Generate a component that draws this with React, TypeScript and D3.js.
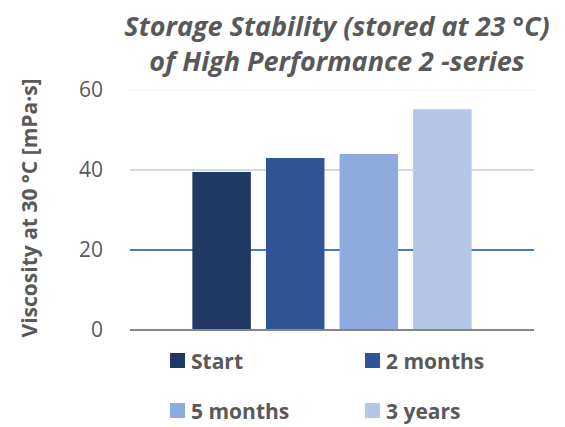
import React from 'react'
import * as d3 from 'd3'

const series = ['Start', '2 months', '5 months', '3 years']
const values = [39.5, 43, 44, 55.2]
const colors = ['#203864', '#2f5597', '#8faadc', '#b4c7e7']
const titleLines = ['Storage Stability (stored at 23 °C)', 'of High Performance 2 -series']
const yLabel = 'Viscosity at 30 °C [mPa·s]'
const yTicks = [0, 20, 40, 60]

// gridline look per tick (0 is the axis line)
const gridStyle: Record<number, {stroke: string; width: number}> = {
  0: {stroke: '#868686', width: 2},
  20: {stroke: '#4a78c8', width: 2},
  40: {stroke: '#cfdaf0', width: 2},
  60: {stroke: '#f4f4f4', width: 1},
}

const W = 565
const H = 427
const plot = {left: 130, right: 534, top: 90, bottom: 330}
const font = '"Open Sans", Lato, sans-serif'
const textColor = '#595959'

export default function App() {
  const y = d3.scaleLinear().domain([0, 60]).range([plot.bottom, plot.top])
  const x = d3
    .scaleBand()
    .domain(series)
    .range([185, 479])
    .paddingInner(0.205)
    .paddingOuter(0.1)

  const legendCols = [170, 365]
  const legendRows = [353, 403]

  return (
    <svg
      width={W}
      height={H}
      style={{position: 'absolute', left: 0, top: 0, background: '#fff'}}
      fontFamily={font}
    >
      {/* title */}
      {titleLines.map((t, i) => (
        <text
          key={t}
          x={337}
          y={36 + i * 35}
          textAnchor="middle"
          fontSize={27}
          fontWeight="bold"
          fontStyle="italic"
          fill={textColor}
        >
          {t}
        </text>
      ))}

      {/* y axis title */}
      <text
        transform={`translate(37, 208) rotate(-90)`}
        textAnchor="middle"
        fontSize={21}
        fontWeight="bold"
        fill={textColor}
      >
        {yLabel}
      </text>

      {/* gridlines + tick labels */}
      {yTicks.map((t) => (
        <g key={t}>
          <line
            x1={plot.left}
            x2={plot.right}
            y1={y(t)}
            y2={y(t)}
            stroke={gridStyle[t].stroke}
            strokeWidth={gridStyle[t].width}
          />
          <text
            x={103}
            y={y(t)}
            dy="0.35em"
            textAnchor="end"
            fontSize={21}
            fill={textColor}
          >
            {t}
          </text>
        </g>
      ))}

      {/* bars */}
      {series.map((s, i) => (
        <rect
          key={s}
          x={x(s)}
          y={y(values[i])}
          width={x.bandwidth()}
          height={plot.bottom - 1 - y(values[i])}
          fill={colors[i]}
        />
      ))}

      {/* legend */}
      {series.map((s, i) => {
        const lx = legendCols[i % 2]
        const ly = legendRows[Math.floor(i / 2)]
        return (
          <g key={s}>
            <rect x={lx} y={ly} width={15} height={15} fill={colors[i]} />
            <text
              x={lx + 21}
              y={ly + 16}
              fontSize={21}
              fontWeight="bold"
              fill={textColor}
            >
              {s}
            </text>
          </g>
        )
      })}
    </svg>
  )
}
